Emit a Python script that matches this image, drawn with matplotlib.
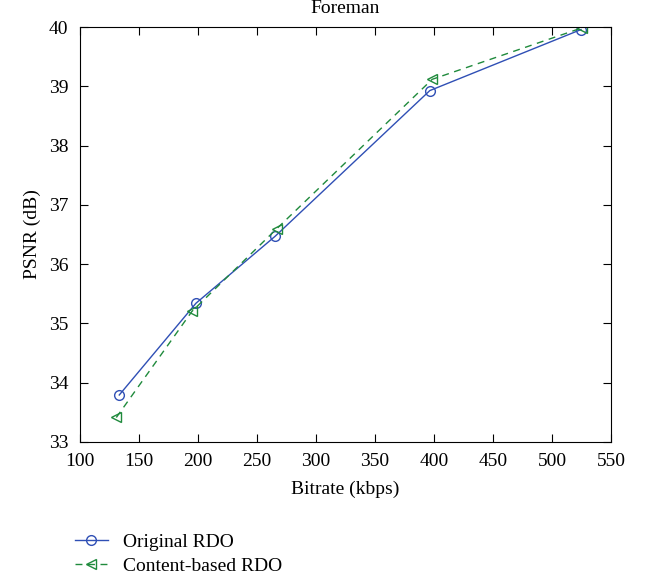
import matplotlib.pyplot as plt

# data
bitrate_orig = [133.5, 198.5, 265.5, 396.5, 524.5]
psnr_orig = [33.79, 35.34, 36.47, 38.93, 39.96]
bitrate_cb = [131.0, 195.0, 267.0, 398.5, 525.5]
psnr_cb = [33.41, 35.20, 36.60, 39.12, 39.99]

plt.rcParams['font.family'] = ['Liberation Serif', 'DejaVu Serif']

fig = plt.figure(figsize=(6.48, 5.79), dpi=100)
ax = fig.add_axes([0.123, 0.237, 0.820, 0.716])

ax.plot(bitrate_orig, psnr_orig, '-o', color='#2f4fb5', lw=1.0, ms=7,
        mfc='none', mec='#2f4fb5', mew=1.0, label='Original RDO')
ax.plot(bitrate_cb, psnr_cb, '--<', color='#1f8a3c', lw=1.0, ms=7,
        mfc='none', mec='#1f8a3c', mew=1.0, dashes=(5, 4), label='Content-based RDO')

ax.set_xlim(100, 550)
ax.set_ylim(33, 40)
ax.set_xticks(range(100, 551, 50))
ax.set_yticks(range(33, 41))
ax.tick_params(direction='in', top=True, right=True, labelsize=14, length=6, width=0.8)
ax.tick_params(axis='x', pad=8)
ax.tick_params(axis='y', pad=8)
for s in ax.spines.values():
    s.set_linewidth(0.8)
ax.set_xlabel('Bitrate (kbps)', fontsize=14, labelpad=8)
ax.set_ylabel('PSNR (dB)', fontsize=14, labelpad=6)
ax.set_title('Foreman', fontsize=14, pad=10)

fig.legend(loc='upper left', bbox_to_anchor=(0.115, 0.079), frameon=False,
           fontsize=14, handlelength=1.7, handletextpad=0.8, labelspacing=0.35,
           markerscale=1.0, borderaxespad=0, borderpad=0)

fig.savefig('out.png', dpi=100)
